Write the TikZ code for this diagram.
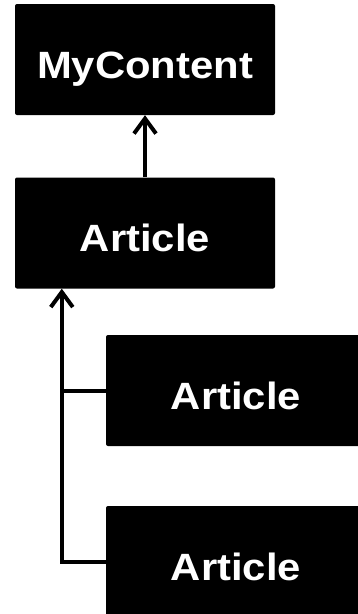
\documentclass[tikz,border=0pt]{standalone}
\usepackage{fontspec}
\newfontfamily\boxfont[FakeStretch=1.1]{Liberation Sans}
\usetikzlibrary{arrows.meta}
\begin{document}
\begin{tikzpicture}[x=1pt,y=-1pt,
  classbox/.style={fill=black,rounded corners=2pt,minimum width=260pt,minimum height=111pt,
    inner sep=0pt,text=white,font=\boxfont\bfseries\fontsize{38}{40}\selectfont,
    text height=37pt,text depth=0pt},
  link/.style={line width=4pt,draw=black},
  inherits/.style={link,-{Straight Barb[length=15pt,width=22pt,line width=4pt]}}]
\clip (0,0) rectangle (358,614);
\node[classbox] (root) at (145,59.5) {MyContent};
\node[classbox] (art) at (145,233) {Article};
\node[classbox] (c1) at (236,390.5) {Article};
\node[classbox] (c2) at (236,561.5) {Article};
\coordinate (tap) at ([xshift=47pt]art.south west);
\draw[inherits] (art.north -| root.south) -- (root.south);
\draw[inherits] (c2.west) -| (tap);
\draw[link] (c1.west) -- (c1.west -| tap);
\end{tikzpicture}
\end{document}
